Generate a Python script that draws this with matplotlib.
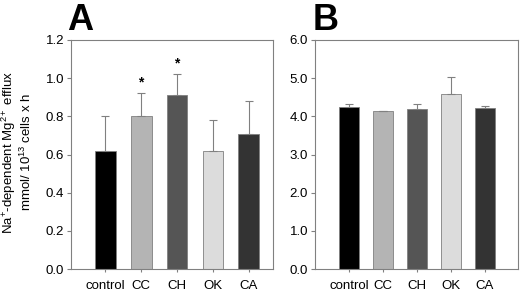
import numpy as np
import matplotlib
matplotlib.use("Agg")
import matplotlib.pyplot as plt

plt.rcParams['font.family'] = ['Liberation Sans', 'DejaVu Sans']
plt.rcParams['mathtext.fontset'] = 'custom'
plt.rcParams['mathtext.rm'] = 'Liberation Sans'
plt.rcParams['mathtext.it'] = 'Liberation Sans:italic'
plt.rcParams['mathtext.bf'] = 'Liberation Sans:bold'

groups = ["control", "CC", "CH", "OK", "CA"]
colors = ["#000000", "#b4b4b4", "#555555", "#dcdcdc", "#333333"]

# panel A
vals_a = [0.62, 0.80, 0.91, 0.62, 0.71]
err_a = [0.18, 0.12, 0.11, 0.16, 0.17]
star_a = [False, True, True, False, False]

# panel B
vals_b = [4.25, 4.13, 4.20, 4.58, 4.23]
err_b = [0.08, 0.01, 0.13, 0.44, 0.04]

fig = plt.figure(figsize=(5.2, 2.92), dpi=100)
ax1 = fig.add_axes([71/520, 1-269/292, 202/520, 229/292])
ax2 = fig.add_axes([315/520, 1-269/292, 203/520, 229/292])

x = np.arange(len(groups))


def style(ax):
    for s in ax.spines.values():
        s.set_color("#808080")
        s.set_linewidth(0.8)
    ax.tick_params(axis='y', direction='out', length=3, color="#808080",
                   labelsize=9.5, pad=2)
    ax.tick_params(axis='x', direction='out', length=2, color="#808080",
                   labelsize=9.5, pad=6)
    ax.set_xticks(x)
    ax.set_xticklabels(groups)


ax1.bar(x, vals_a, width=0.58, color=colors, edgecolor="#808080", linewidth=0.6,
        yerr=[np.zeros(5), err_a], error_kw=dict(ecolor="#808080", elinewidth=0.8,
                                                 capsize=3, capthick=0.8))
for i, s in enumerate(star_a):
    if s:
        ax1.text(x[i], vals_a[i] + err_a[i] + 0.02, "*", ha="center", va="bottom",
                 fontsize=10, fontweight="bold")
ax1.set_ylim(0, 1.2)
ax1.set_xlim(-0.95, 4.67)
ax1.set_yticks(np.arange(0, 1.21, 0.2))
ax1.set_yticklabels(["%.1f" % v for v in np.arange(0, 1.21, 0.2)])
style(ax1)
fig.text(17/520, 1-152/292,
         "Na$^{+}$-dependent Mg$^{2+}$ efflux\nmmol/ 10$^{13}$ cells x h",
         fontsize=9.5, linespacing=1.1, rotation=90, ha="center", va="center",
         multialignment="center")
fig.text(67/520, 1-30/292, "A", fontsize=26, fontweight="bold")

ax2.bar(x, vals_b, width=0.6, color=colors, edgecolor="#808080", linewidth=0.6,
        yerr=[np.zeros(5), err_b], error_kw=dict(ecolor="#808080", elinewidth=0.8,
                                                 capsize=3, capthick=0.8))
ax2.set_ylim(0, 6.0)
ax2.set_xlim(-1.0, 4.97)
ax2.set_yticks(np.arange(0, 6.1, 1.0))
ax2.set_yticklabels(["%.1f" % v for v in np.arange(0, 6.1, 1.0)])
style(ax2)
fig.text(313/520, 1-30/292, "B", fontsize=26, fontweight="bold")

fig.savefig("out.png", dpi=100)
